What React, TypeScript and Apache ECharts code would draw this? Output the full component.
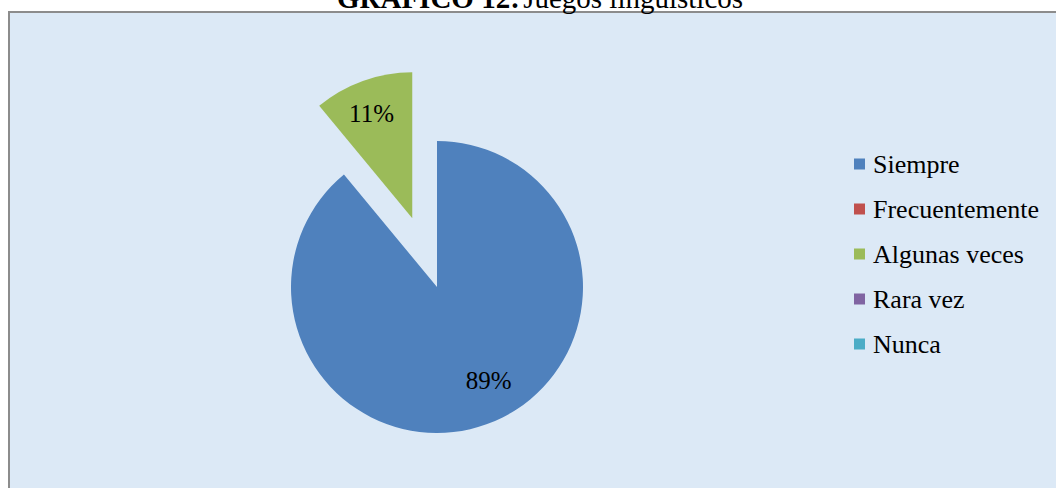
import React, { useEffect, useRef } from "react";
import * as echarts from "echarts";

const categories = ["Siempre", "Frecuentemente", "Algunas veces", "Rara vez", "Nunca"];
const values = [89, 0, 11, 0, 0];
const colors = ["#4F81BD", "#C0504D", "#9BBB59", "#8064A2", "#4BACC6"];
const labelOffsets: number[][] = [[26, 22], [0, 0], [-15, -33], [0, 0], [0, 0]];
const titleBold = "GRÁFICO 12:";
const titleRest = "Juegos lingüísticos";

const FONT = "'Liberation Serif', 'Times New Roman', serif";

export default function App() {
  const ref = useRef<HTMLDivElement>(null);
  useEffect(() => {
    if (!ref.current) return;
    const chart = echarts.init(ref.current, undefined, { renderer: "svg" });
    chart.setOption({
      animation: false,
      graphic: [
        {
          type: "rect",
          z: -10,
          shape: { x: 9, y: 12, width: 1100, height: 520 },
          style: { fill: "#dce9f6", stroke: "#8c8c8c", lineWidth: 2 },
        },
        {
          type: "text",
          x: 540,
          y: 12,
          style: {
            text: `{b|${titleBold}} {n|${titleRest}}`,
            align: "center",
            verticalAlign: "bottom",
            rich: {
              b: { fontFamily: FONT, fontSize: 29, fontWeight: "bold", fill: "#000" },
              n: { fontFamily: FONT, fontSize: 29, fill: "#000" },
            },
          },
        },
      ],
      legend: {
        orient: "vertical",
        left: 849,
        top: 146,
        icon: "rect",
        itemWidth: 11,
        itemHeight: 11,
        itemGap: 19,
        selectedMode: false,
        data: categories,
        textStyle: { fontFamily: FONT, fontSize: 26, color: "#000", padding: [0, 0, 0, 3] },
      },
      series: [
        {
          type: "pie",
          center: [437, 287],
          radius: 146,
          startAngle: 90,
          clockwise: true,
          selectedMode: "multiple",
          selectedOffset: 73,
          stillShowZeroSum: false,
          labelLine: { show: false },
          emphasis: { disabled: true },
          label: {
            show: true,
            position: "inside",
            fontFamily: FONT,
            fontSize: 25,
            color: "#000",
            formatter: (p: any) => (p.value > 0 ? Math.round(p.percent) + "%" : ""),
          },
          data: categories.map((c, i) => ({
            name: c,
            value: values[i],
            selected: c === "Algunas veces",
            itemStyle: { color: colors[i] },
            label: { offset: labelOffsets[i] },
            select: { label: { offset: labelOffsets[i] }, itemStyle: { color: colors[i] } },
          })),
        },
      ],
    });
    return () => chart.dispose();
  }, []);
  return (
    <div
      ref={ref}
      style={{ position: "absolute", left: 0, top: 0, width: 1056, height: 488, background: "#fff" }}
    />
  );
}
